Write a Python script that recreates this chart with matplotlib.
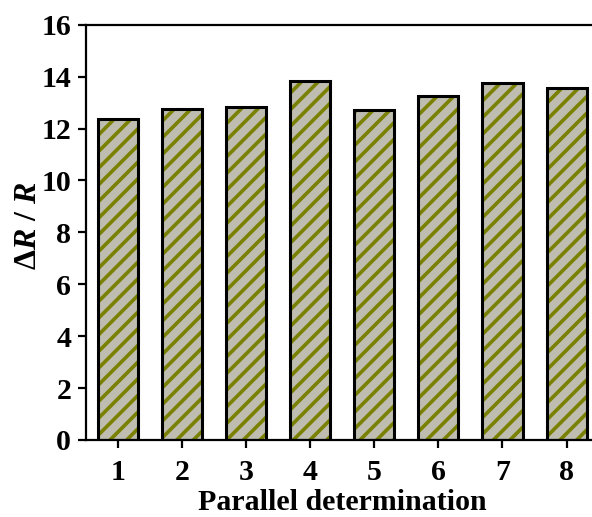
import matplotlib
matplotlib.use('Agg')
import matplotlib.pyplot as plt

# parallel runs and measured response
runs = [1, 2, 3, 4, 5, 6, 7, 8]
ratio = [12.38, 12.77, 12.85, 13.85, 12.70, 13.25, 13.75, 13.58]

plt.rcParams['font.family'] = 'Liberation Serif'
plt.rcParams['font.weight'] = 'bold'
plt.rcParams['mathtext.fontset'] = 'custom'
plt.rcParams['mathtext.rm'] = 'Liberation Serif'
plt.rcParams['mathtext.it'] = 'Liberation Serif:italic:bold'
plt.rcParams['mathtext.bf'] = 'Liberation Serif:bold'
plt.rcParams['hatch.linewidth'] = 2.6

fig = plt.figure(figsize=(5.92, 5.17), dpi=100)
ax = fig.add_axes([0.146, 0.149, 0.865, 0.803])

# hatched fill first (hatch takes the edge colour), black outline on top
ax.bar(runs, ratio, width=0.625, color='#bebdb0', edgecolor='#7a8000',
       linewidth=0, hatch='//')
ax.bar(runs, ratio, width=0.625, fill=False, edgecolor='black', linewidth=2.2)

ax.set_xlim(0.5, 8.5)
ax.set_ylim(0, 16)
ax.set_xticks(runs)
ax.set_yticks(range(0, 17, 2))

for s in ax.spines.values():
    s.set_linewidth(1.6)
ax.tick_params(axis='both', direction='out', width=1.6, labelsize=21.5)
ax.tick_params(axis='y', length=6, pad=5)
ax.tick_params(axis='x', length=6, pad=8)

ax.set_xlabel('Parallel determination', fontsize=21.5, fontweight='bold', labelpad=2)
ax.set_ylabel(r'$\Delta\mathit{R}$ / $\mathit{R}$', fontsize=23, fontweight='bold')
ax.yaxis.set_label_coords(-0.085, 0.515)

fig.savefig('out.png', dpi=100)
